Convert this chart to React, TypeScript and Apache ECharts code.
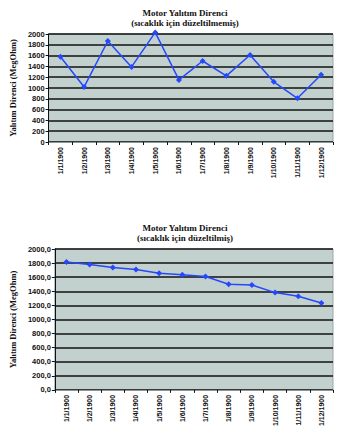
import React, { useEffect, useRef } from "react";
import * as echarts from "echarts";

const categories = [
  "1/1/1900", "1/2/1900", "1/3/1900", "1/4/1900", "1/5/1900", "1/6/1900",
  "1/7/1900", "1/8/1900", "1/9/1900", "1/10/1900", "1/11/1900", "1/12/1900",
];
const uncorrected = [1580, 1020, 1870, 1390, 2030, 1150, 1500, 1225, 1610, 1115, 810, 1245];
const corrected = [1815, 1780, 1736, 1708, 1656, 1633, 1609, 1499, 1490, 1381, 1329, 1233];
const titleMain = "Motor Yalıtım Direnci";
const subTop = "(sıcaklık için düzeltilmemiş)";
const subBottom = "(sıcaklık için düzeltilmiş)";
const yName = "Yalıtım Direnci (MegOhm)";

const LINE = "#2448ff";
const BG = "#c3d1ce";

export default function App() {
  const ref = useRef<HTMLDivElement>(null);
  useEffect(() => {
    if (!ref.current) return;
    const chart = echarts.init(ref.current, null, { renderer: "svg" });
    const titleStyle = {
      fontFamily: "Liberation Serif",
      fontWeight: "bold" as const,
      fontSize: 9,
      color: "#111",
      lineHeight: 10,
      align: "center" as const,
    };
    const xAxisBase = (gridIndex: number) => ({
      type: "category" as const,
      gridIndex,
      data: categories,
      boundaryGap: true,
      axisLine: { lineStyle: { color: "#8c9896", width: 1 } },
      axisTick: { show: true, length: 3, lineStyle: { color: "#111" } },
      axisLabel: {
        rotate: 90,
        fontSize: 7,
        fontWeight: "bold" as const,
        fontFamily: "Liberation Sans Narrow, Liberation Sans",
        color: "#111",
        interval: 0,
        margin: 5,
      },
      splitLine: { show: false },
    });
    const yAxisBase = (gridIndex: number, fmt: (v: number) => string, gap: number) => ({
      type: "value" as const,
      gridIndex,
      min: 0,
      max: 2000,
      interval: 200,
      name: yName,
      nameLocation: "middle" as const,
      nameGap: gap,
      nameRotate: 90,
      nameTextStyle: {
        fontFamily: "Liberation Serif",
        fontWeight: "bold" as const,
        fontSize: 8.5,
        color: "#111",
      },
      axisLine: { show: true, lineStyle: { color: "#111", width: 1 } },
      axisTick: { show: true, length: 3, lineStyle: { color: "#111" } },
      axisLabel: {
        fontSize: 7.5,
        fontWeight: "bold" as const,
        fontFamily: "Liberation Sans",
        color: "#111",
        margin: 4,
        formatter: fmt,
      },
      splitLine: { show: true, lineStyle: { color: "#111", width: 1.5 } },
    });
    chart.setOption({
      animation: false,
      backgroundColor: "#ffffff",
      title: [
        {
          text: titleMain + "\n" + subTop,
          left: 180,
          top: 3,
          textAlign: "center",
          textStyle: titleStyle,
        },
        {
          text: titleMain + "\n" + subBottom,
          left: 180,
          top: 218,
          textAlign: "center",
          textStyle: titleStyle,
        },
      ],
      grid: [
        {
          left: 39, right: 19, top: 34, bottom: 287,
          show: true, backgroundColor: BG, borderColor: "#9aa8a6", borderWidth: 1,
        },
        {
          left: 45, right: 19, top: 249, bottom: 38,
          show: true, backgroundColor: BG, borderColor: "#9aa8a6", borderWidth: 1,
        },
      ],
      xAxis: [xAxisBase(0), xAxisBase(1)],
      yAxis: [
        yAxisBase(0, (v: number) => String(v), 27),
        yAxisBase(1, (v: number) => v.toFixed(1).replace(".", ","), 33),
      ],
      series: [
        {
          type: "line",
          xAxisIndex: 0,
          yAxisIndex: 0,
          data: uncorrected,
          clip: false,
          symbol: "diamond",
          symbolSize: 6,
          lineStyle: { color: LINE, width: 1.5 },
          itemStyle: { color: LINE },
        },
        {
          type: "line",
          xAxisIndex: 1,
          yAxisIndex: 1,
          data: corrected,
          clip: false,
          symbol: "diamond",
          symbolSize: 6,
          lineStyle: { color: LINE, width: 1.5 },
          itemStyle: { color: LINE },
        },
      ],
    });
    return () => chart.dispose();
  }, []);
  return (
    <div
      ref={ref}
      style={{ position: "fixed", left: 0, top: 0, width: 352, height: 429 }}
    />
  );
}
